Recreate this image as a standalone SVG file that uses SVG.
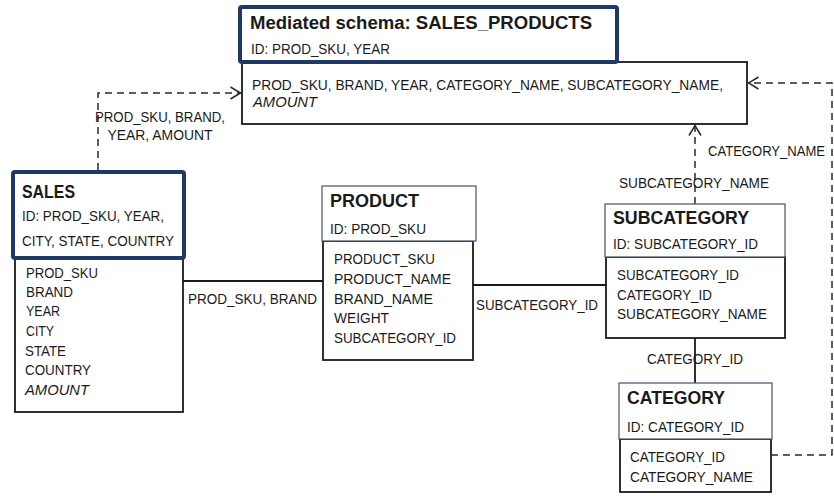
<svg xmlns="http://www.w3.org/2000/svg" width="834" height="502" viewBox="0 0 834 502">
<style>
text{font-family:"Liberation Sans",Arial,sans-serif;fill:#1a1a1a;font-size:14px}
.t{font-weight:bold;font-size:18px}
.i{font-style:italic}
.hb{fill:#fff;stroke:#1F3864;stroke-width:4}
.ht{fill:#fff;stroke:#44546A;stroke-width:1.2}
.bd{fill:#fff;stroke:#1a1a1a;stroke-width:1.8}
.s{fill:none;stroke:#1a1a1a;stroke-width:1.8}
.d{fill:none;stroke:#2a2a2a;stroke-width:1.5;stroke-dasharray:7,5}
</style>
<defs>
<marker id="a" viewBox="0 0 12 14" refX="11.5" refY="7" markerWidth="12" markerHeight="14" markerUnits="userSpaceOnUse" orient="auto">
<path d="M1,1 L11,7 L1,13" fill="none" stroke="#2a2a2a" stroke-width="1.5"/>
</marker>
</defs>
<g id="connectors">
<path class="d" d="M98,170 V93 H241" marker-end="url(#a)"/>
<text x="160" y="122" text-anchor="middle" textLength="130" lengthAdjust="spacingAndGlyphs">PROD_SKU, BRAND,</text>
<text x="160" y="140" text-anchor="middle" textLength="105" lengthAdjust="spacingAndGlyphs">YEAR, AMOUNT</text>
<path class="s" d="M183,281 H323"/>
<text x="188" y="304" textLength="129" lengthAdjust="spacingAndGlyphs">PROD_SKU, BRAND</text>
<path class="s" d="M473,285 H606"/>
<text x="476" y="310" textLength="122" lengthAdjust="spacingAndGlyphs">SUBCATEGORY_ID</text>
<path class="d" d="M695,204 V125" marker-end="url(#a)"/>
<text x="694" y="188" text-anchor="middle" textLength="150" lengthAdjust="spacingAndGlyphs">SUBCATEGORY_NAME</text>
<path class="s" d="M695,338 V384"/>
<text x="695" y="364" text-anchor="middle" textLength="96" lengthAdjust="spacingAndGlyphs">CATEGORY_ID</text>
<path class="d" d="M771,455 H832 V83 H748" marker-end="url(#a)"/>
<text x="708" y="156" textLength="117" lengthAdjust="spacingAndGlyphs">CATEGORY_NAME</text>
</g>
<g id="mediated">
<rect class="bd" x="242" y="62" width="505" height="62"/>
<rect class="hb" x="240" y="7" width="377" height="55" rx="2"/>
<text class="t" x="250" y="29" textLength="342" lengthAdjust="spacingAndGlyphs">Mediated schema: SALES_PRODUCTS</text>
<text x="251" y="54" textLength="139" lengthAdjust="spacingAndGlyphs">ID: PROD_SKU, YEAR</text>
<text x="252" y="90" textLength="471" lengthAdjust="spacingAndGlyphs">PROD_SKU, BRAND, YEAR, CATEGORY_NAME, SUBCATEGORY_NAME,</text>
<text class="i" x="253" y="107" textLength="64" lengthAdjust="spacingAndGlyphs">AMOUNT</text>
</g>
<g id="sales">
<rect class="bd" x="15" y="258" width="168" height="154"/>
<rect class="hb" x="13" y="172" width="171" height="86" rx="2"/>
<text class="t" x="22" y="198" textLength="53" lengthAdjust="spacingAndGlyphs">SALES</text>
<text x="22" y="221" textLength="142" lengthAdjust="spacingAndGlyphs">ID: PROD_SKU, YEAR,</text>
<text x="22" y="246" textLength="152" lengthAdjust="spacingAndGlyphs">CITY, STATE, COUNTRY</text>
<text x="26" y="278" textLength="72" lengthAdjust="spacingAndGlyphs">PROD_SKU</text>
<text x="26" y="297" textLength="47" lengthAdjust="spacingAndGlyphs">BRAND</text>
<text x="26" y="316" textLength="34" lengthAdjust="spacingAndGlyphs">YEAR</text>
<text x="26" y="336" textLength="28" lengthAdjust="spacingAndGlyphs">CITY</text>
<text x="25" y="356" textLength="41" lengthAdjust="spacingAndGlyphs">STATE</text>
<text x="25" y="375" textLength="66" lengthAdjust="spacingAndGlyphs">COUNTRY</text>
<text class="i" x="25" y="395" textLength="64" lengthAdjust="spacingAndGlyphs">AMOUNT</text>
</g>
<g id="product">
<rect class="bd" x="323" y="241" width="150" height="119"/>
<rect class="ht" x="322" y="186" width="154" height="55"/>
<text class="t" x="330" y="207" textLength="89" lengthAdjust="spacingAndGlyphs">PRODUCT</text>
<text x="330" y="234" textLength="96" lengthAdjust="spacingAndGlyphs">ID: PROD_SKU</text>
<text x="334" y="264" textLength="101" lengthAdjust="spacingAndGlyphs">PRODUCT_SKU</text>
<text x="334" y="284" textLength="117" lengthAdjust="spacingAndGlyphs">PRODUCT_NAME</text>
<text x="334" y="304" textLength="99" lengthAdjust="spacingAndGlyphs">BRAND_NAME</text>
<text x="334" y="323" textLength="55" lengthAdjust="spacingAndGlyphs">WEIGHT</text>
<text x="334" y="343" textLength="122" lengthAdjust="spacingAndGlyphs">SUBCATEGORY_ID</text>
</g>
<g id="subcategory">
<rect class="bd" x="606" y="257" width="179" height="81"/>
<rect class="ht" x="605" y="204" width="180" height="53"/>
<text class="t" x="613" y="224" textLength="136" lengthAdjust="spacingAndGlyphs">SUBCATEGORY</text>
<text x="613" y="249" textLength="145" lengthAdjust="spacingAndGlyphs">ID: SUBCATEGORY_ID</text>
<text x="617" y="280" textLength="122" lengthAdjust="spacingAndGlyphs">SUBCATEGORY_ID</text>
<text x="617" y="300" textLength="95" lengthAdjust="spacingAndGlyphs">CATEGORY_ID</text>
<text x="617" y="319" textLength="150" lengthAdjust="spacingAndGlyphs">SUBCATEGORY_NAME</text>
</g>
<g id="category">
<rect class="bd" x="620" y="439" width="151" height="53"/>
<rect class="ht" x="619" y="383" width="153" height="56"/>
<text class="t" x="627" y="404" textLength="98" lengthAdjust="spacingAndGlyphs">CATEGORY</text>
<text x="627" y="432" textLength="117" lengthAdjust="spacingAndGlyphs">ID: CATEGORY_ID</text>
<text x="630" y="462" textLength="95" lengthAdjust="spacingAndGlyphs">CATEGORY_ID</text>
<text x="630" y="482" textLength="123" lengthAdjust="spacingAndGlyphs">CATEGORY_NAME</text>
</g>
</svg>
